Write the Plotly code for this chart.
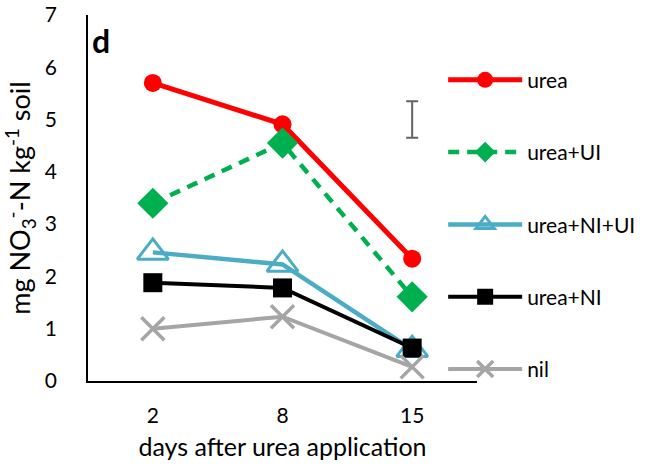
import plotly.graph_objects as go

days = ["2", "8", "15"]
urea = [5.70, 4.91, 2.34]
urea_ui = [3.40, 4.55, 1.61]
urea_ni_ui = [2.46, 2.23, 0.60]
urea_ni = [1.88, 1.78, 0.63]
nil = [1.00, 1.23, 0.27]
err_x = ["15"]
err_y = [5.0]
err_half = [0.35]

FONT = "Lato"
fig = go.Figure()

series = [
    ("urea", urea, "#FF0000", dict(symbol="circle", size=18, color="#FF0000"), "solid", 5),
    ("urea+UI", urea_ui, "#00B050", dict(symbol="diamond", size=24, color="#00B050"), "11px,8px", 4.5),
    ("urea+NI+UI", urea_ni_ui, "#4BACC6", dict(symbol="triangle-up-open", size=27, color="#4BACC6",
                                             line=dict(width=3, color="#4BACC6")), "solid", 4.5),
    ("urea+NI", urea_ni, "#000000", dict(symbol="square", size=19, color="#000000"), "solid", 4),
    ("nil", nil, "#A5A5A5", dict(symbol="x-thin", size=23, color="#A5A5A5",
                                 line=dict(width=3.5, color="#A5A5A5")), "solid", 4),
]
for i, (name, vals, col, mk, dash, w) in enumerate(series):
    fig.add_trace(go.Scatter(x=days, y=vals, name=name, mode="lines+markers",
                             line=dict(color=col, width=w, dash=dash), marker=mk,
                             legendgroup=f"g{i}"))

fig.add_trace(go.Scatter(x=err_x, y=err_y, mode="markers", marker=dict(size=1, opacity=0),
                         showlegend=False, hoverinfo="skip",
                         error_y=dict(type="data", array=err_half, color="#636363",
                                      thickness=2, width=6)))

fig.update_layout(
    width=653, height=470,
    margin=dict(l=88, r=173, t=15, b=89),
    paper_bgcolor="white", plot_bgcolor="white",
    font=dict(family=FONT, size=21, color="black"),
    showlegend=True,
    legend=dict(x=0.913, y=0.878, xanchor="left", yanchor="top",
                traceorder="grouped", tracegroupgap=42, itemwidth=74,
                font=dict(family=FONT, size=21, color="black"),
                bgcolor="rgba(0,0,0,0)"),
    xaxis=dict(type="category", categoryorder="array", categoryarray=days,
               range=[-0.5, 2.5], showline=True, linecolor="black", linewidth=1.5,
               showgrid=False, ticks="", ticklabelstandoff=15, automargin=False,
               tickfont=dict(size=21),
               title=dict(text="days after urea application", font=dict(size=25), standoff=13)),
    yaxis=dict(range=[0, 7], dtick=1, showline=True, linecolor="black", linewidth=1.5,
               showgrid=False, zeroline=False, ticks="", ticklabelstandoff=25, automargin=False,
               tickfont=dict(size=21),
               title=dict(text="mg NO<sub>3</sub><sup>-</sup>-N kg<sup>-1</sup> soil",
                          font=dict(size=27), standoff=11)),
    annotations=[dict(text="<b>d</b>", xref="paper", yref="paper", x=0.004, y=0.99,
                      xanchor="left", yanchor="top", showarrow=False,
                      font=dict(family=FONT, size=32, color="black"))],
)

fig.write_html("out.html", config={"displayModeBar": False},
               post_script="document.body.style.margin='0px';")
